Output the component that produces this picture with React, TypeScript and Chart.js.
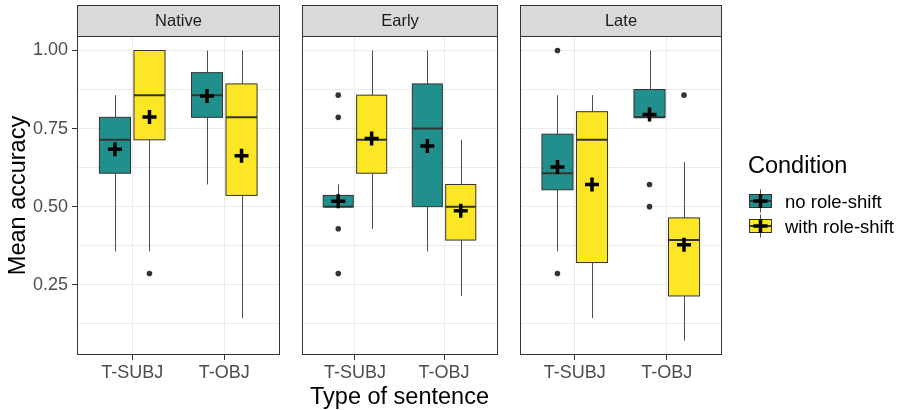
import React, { useEffect, useRef } from 'react';
import { Chart, registerables } from 'chart.js';

Chart.register(...registerables);

// ---------- data ----------
const FACETS = ['Native', 'Early', 'Late'];
const CATEGORIES = ['T-SUBJ', 'T-OBJ'];
const CONDITIONS = ['no role-shift', 'with role-shift'];
const Y_MAJOR = [0.25, 0.5, 0.75, 1.0];
const Y_MINOR = [0.125, 0.375, 0.625, 0.875];

// five-number summaries per category: [lower whisker, q1, median, q3, upper whisker]
const NATIVE_NO = [[0.357, 0.607, 0.714, 0.786, 0.857], [0.571, 0.786, 0.857, 0.929, 1.0]];
const NATIVE_WITH = [[0.357, 0.714, 0.857, 1.0, 1.0], [0.143, 0.536, 0.786, 0.893, 1.0]];
const EARLY_NO = [[0.5, 0.5, 0.5, 0.536, 0.571], [0.357, 0.5, 0.75, 0.893, 1.0]];
const EARLY_WITH = [[0.429, 0.607, 0.714, 0.857, 1.0], [0.214, 0.393, 0.5, 0.571, 0.714]];
const LATE_NO = [[0.357, 0.554, 0.607, 0.732, 0.857], [0.786, 0.786, 0.786, 0.875, 1.0]];
const LATE_WITH = [[0.143, 0.321, 0.714, 0.804, 0.857], [0.071, 0.214, 0.393, 0.464, 0.643]];

// means per facet, per category
const MEAN_NO = [[0.684, 0.854], [0.517, 0.694], [0.627, 0.795]];
const MEAN_WITH = [[0.787, 0.663], [0.718, 0.487], [0.571, 0.378]];

// outliers per facet, per category
const OUTLIERS_NO = [[[], []], [[0.857, 0.786, 0.429, 0.286], []], [[1.0, 0.286], [0.571, 0.5]]];
const OUTLIERS_WITH = [[[0.286], []], [[], []], [[], [0.857]]];

const BOXES = [
  [NATIVE_NO, NATIVE_WITH],
  [EARLY_NO, EARLY_WITH],
  [LATE_NO, LATE_WITH],
];
const MEANS = [MEAN_NO, MEAN_WITH];
const OUTLIERS = [OUTLIERS_NO, OUTLIERS_WITH];

// ---------- style / layout ----------
const FILLS = ['#21908C', '#FDE725'];
const LINE = '#333333';
const WHISKER = '#4D4D4D';
const GRID = '#EBEBEB';
const FONT = "'Liberation Sans', Arial, sans-serif";
const W = 901;
const H = 410;
const PANEL_LEFT = [77, 295, 513];
const PANEL_W = 209;
const PANEL_TOP = 36;
const STRIP_TOP = 5;
const X_AXIS_H = 55;
const DODGE = 0.1875;
const HALF_BOX = 0.16875;
const CANVAS_LEFT = [0, 291, 509];
const CANVAS_W = [290, 217, 392];

function makePanelPlugin(fi: number) {
  return {
    id: 'panel' + fi,
    beforeDatasetsDraw(chart: any) {
      const { ctx, chartArea } = chart;
      const xs = chart.scales.x;
      const ys = chart.scales.y;
      ctx.save();
      ctx.beginPath();
      ctx.rect(chartArea.left, chartArea.top, chartArea.right - chartArea.left, chartArea.bottom - chartArea.top);
      ctx.clip();
      for (let ci = 0; ci < 2; ci++) {
        const series = BOXES[fi][ci];
        for (let k = 0; k < CATEGORIES.length; k++) {
          const [lw, q1, med, q3, uw] = series[k];
          const xc = k + 1 + (ci === 0 ? -DODGE : DODGE);
          const px = Math.round(xs.getPixelForValue(xc)) + 0.5;
          const pl = xs.getPixelForValue(xc - HALF_BOX);
          const pr = xs.getPixelForValue(xc + HALF_BOX);
          const yLw = ys.getPixelForValue(lw);
          const yQ1 = ys.getPixelForValue(q1);
          const yMed = ys.getPixelForValue(med);
          const yQ3 = ys.getPixelForValue(q3);
          const yUw = ys.getPixelForValue(uw);
          ctx.strokeStyle = WHISKER;
          ctx.lineWidth = 1;
          ctx.beginPath();
          ctx.moveTo(px, yUw);
          ctx.lineTo(px, yQ3);
          ctx.moveTo(px, yQ1);
          ctx.lineTo(px, yLw);
          ctx.stroke();
          ctx.strokeStyle = LINE;
          ctx.fillStyle = FILLS[ci];
          ctx.fillRect(pl, yQ3, pr - pl, yQ1 - yQ3);
          ctx.strokeRect(pl, yQ3, pr - pl, yQ1 - yQ3);
          ctx.lineWidth = 2;
          ctx.beginPath();
          ctx.moveTo(pl, yMed);
          ctx.lineTo(pr, yMed);
          ctx.stroke();
        }
      }
      ctx.restore();
    },
    afterDraw(chart: any) {
      const { ctx, chartArea } = chart;
      ctx.save();
      ctx.strokeStyle = LINE;
      ctx.lineWidth = 1;
      const l = Math.round(chartArea.left) + 0.5;
      const r = Math.round(chartArea.right) - 0.5;
      const t = Math.round(chartArea.top) + 0.5;
      const b = Math.round(chartArea.bottom) - 0.5;
      ctx.strokeRect(l, t, r - l, b - t);
      // strip
      ctx.fillStyle = '#D9D9D9';
      ctx.fillRect(l, STRIP_TOP + 0.5, r - l, t - STRIP_TOP - 0.5);
      ctx.strokeRect(l, STRIP_TOP + 0.5, r - l, t - STRIP_TOP - 0.5);
      ctx.fillStyle = '#1A1A1A';
      ctx.font = `16.5px ${FONT}`;
      ctx.textAlign = 'center';
      ctx.textBaseline = 'middle';
      ctx.fillText(FACETS[fi], (l + r) / 2, (STRIP_TOP + t) / 2 + 1);
      if (fi === 2) {
        // legend
        const lx = 748 - CANVAS_LEFT[2];
        ctx.fillStyle = '#000000';
        ctx.textAlign = 'left';
        ctx.font = `23.5px ${FONT}`;
        ctx.fillText('Condition', lx, 167);
        const rows = [201, 226];
        for (let ci = 0; ci < CONDITIONS.length; ci++) {
          const cy = rows[ci];
          const cx = 760 - CANVAS_LEFT[2];
          ctx.strokeStyle = WHISKER;
          ctx.lineWidth = 1;
          ctx.beginPath();
          ctx.moveTo(cx + 0.5, cy - 11.5);
          ctx.lineTo(cx + 0.5, cy + 11.5);
          ctx.stroke();
          ctx.strokeStyle = LINE;
          ctx.fillStyle = FILLS[ci];
          ctx.fillRect(cx - 10.5, cy - 6.5, 22, 13);
          ctx.strokeRect(cx - 10.5, cy - 6.5, 22, 13);
          ctx.lineWidth = 2;
          ctx.beginPath();
          ctx.moveTo(cx - 10.5, cy);
          ctx.lineTo(cx + 11.5, cy);
          ctx.stroke();
          ctx.strokeStyle = '#000000';
          ctx.lineWidth = 3.5;
          ctx.beginPath();
          ctx.moveTo(cx - 6.5, cy);
          ctx.lineTo(cx + 7.5, cy);
          ctx.moveTo(cx + 0.5, cy - 7);
          ctx.lineTo(cx + 0.5, cy + 7);
          ctx.stroke();
          ctx.fillStyle = '#000000';
          ctx.font = `18.5px ${FONT}`;
          ctx.fillText(CONDITIONS[ci], 785 - CANVAS_LEFT[2], cy + 1.5);
        }
      }
      ctx.restore();
    },
  };
}

function buildChart(canvas: HTMLCanvasElement, fi: number) {
  const outlierPts: { x: number; y: number }[] = [];
  const meanPts: { x: number; y: number }[] = [];
  for (let ci = 0; ci < 2; ci++) {
    for (let k = 0; k < CATEGORIES.length; k++) {
      const xc = k + 1 + (ci === 0 ? -DODGE : DODGE);
      OUTLIERS[ci][fi][k].forEach((v) => outlierPts.push({ x: xc, y: v }));
      meanPts.push({ x: xc, y: MEANS[ci][fi][k] });
    }
  }
  const panelX = PANEL_LEFT[fi] - CANVAS_LEFT[fi];
  const padLeft = fi === 0 ? 0 : panelX;
  const padRight = CANVAS_W[fi] - panelX - PANEL_W;
  const isFirst = fi === 0;

  return new Chart(canvas, {
    type: 'scatter',
    data: {
      datasets: [
        {
          label: 'outliers',
          data: outlierPts,
          pointStyle: 'circle',
          pointRadius: 2.8,
          backgroundColor: LINE,
          borderWidth: 0,
        },
        {
          label: 'mean',
          data: meanPts,
          pointStyle: 'cross',
          pointRadius: 7,
          borderColor: '#000000',
          borderWidth: 3.5,
        },
      ],
    },
    options: {
      responsive: false,
      animation: false,
      events: [],
      devicePixelRatio: 1,
      layout: { padding: { left: padLeft, right: padRight, top: PANEL_TOP, bottom: 0 } },
      plugins: { legend: { display: false }, tooltip: { enabled: false } },
      scales: {
        x: {
          type: 'linear',
          min: 0.4,
          max: 2.6,
          afterBuildTicks: (s: any) => {
            s.ticks = CATEGORIES.map((_, i) => ({ value: i + 1 }));
          },
          afterFit: (s: any) => {
            s.height = X_AXIS_H;
          },
          ticks: {
            callback: (v: any) => CATEGORIES[Math.round(v) - 1] ?? '',
            font: { family: FONT, size: 18 },
            color: '#4D4D4D',
            padding: 2,
            maxRotation: 0,
            autoSkip: false,
          },
          grid: { color: GRID, lineWidth: 1, tickColor: LINE, tickLength: 5 },
          border: { display: false },
          title: {
            display: fi === 1,
            text: 'Type of sentence',
            color: '#000000',
            font: { family: FONT, size: 23.5, lineHeight: 1.05 },
            padding: { top: 0, bottom: 0 },
          },
        },
        y: {
          type: 'linear',
          min: 0.025,
          max: 1.0464,
          afterBuildTicks: (s: any) => {
            s.ticks = [...Y_MINOR, ...Y_MAJOR].sort((a, b) => a - b).map((v) => ({ value: v }));
          },
          afterFit: (s: any) => {
            s.width = isFirst ? PANEL_LEFT[0] : 0;
          },
          ticks: {
            display: isFirst,
            callback: (v: any) => (Y_MAJOR.some((m) => Math.abs(m - v) < 1e-6) ? Number(v).toFixed(2) : ''),
            font: { family: FONT, size: 18 },
            color: '#4D4D4D',
            padding: 4,
            autoSkip: false,
          },
          grid: {
            color: GRID,
            lineWidth: 1,
            drawTicks: isFirst,
            tickLength: 5,
            tickColor: (c: any) =>
              c.tick && Y_MAJOR.some((m) => Math.abs(m - c.tick.value) < 1e-6) ? LINE : 'rgba(0,0,0,0)',
          },
          border: { display: false },
          title: {
            display: isFirst,
            text: 'Mean accuracy',
            color: '#000000',
            font: { family: FONT, size: 23.5 },
            padding: { top: 4, bottom: 0 },
          },
        },
      },
    },
    plugins: [makePanelPlugin(fi)],
  } as any);
}

export default function App() {
  const refs = [useRef<HTMLCanvasElement>(null), useRef<HTMLCanvasElement>(null), useRef<HTMLCanvasElement>(null)];
  useEffect(() => {
    document.body.style.margin = '0';
    const charts = refs.map((r, i) => buildChart(r.current as HTMLCanvasElement, i));
    return () => charts.forEach((c) => c.destroy());
  }, []);
  return (
    <div style={{ position: 'relative', width: W, height: H, background: '#ffffff' }}>
      {FACETS.map((f, i) => (
        <canvas
          key={f}
          ref={refs[i]}
          width={CANVAS_W[i]}
          height={H}
          style={{ position: 'absolute', left: CANVAS_LEFT[i], top: 0, width: CANVAS_W[i], height: H }}
        />
      ))}
    </div>
  );
}
